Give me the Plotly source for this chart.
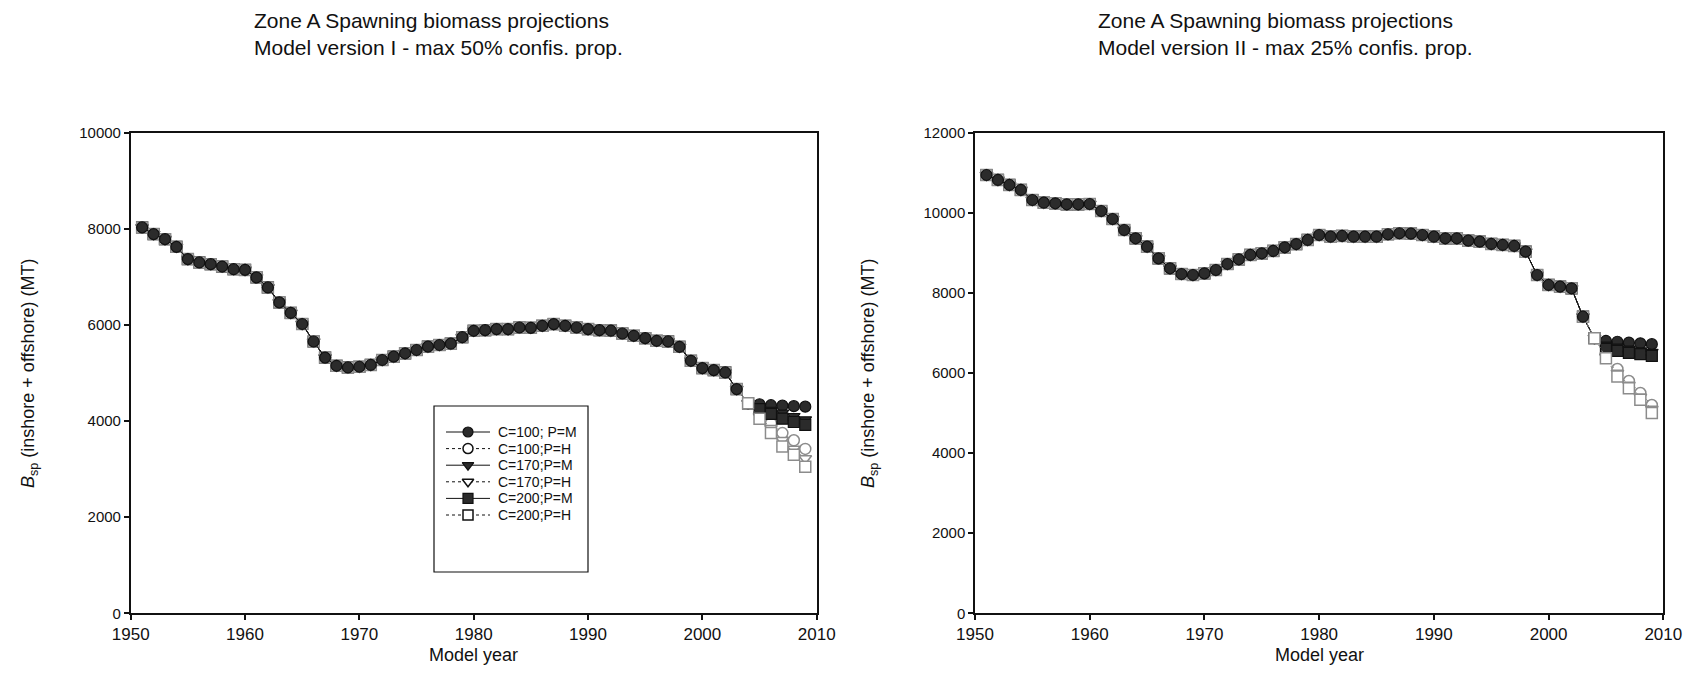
import plotly.graph_objects as go

# ---------------- data ----------------
hist_years = list(range(1951, 2004))
proj_years = list(range(2004, 2010))

# Model version I (left) historical spawning biomass 1951-2003
hist_left = [8030, 7890, 7785, 7625, 7370, 7300, 7265, 7215, 7160, 7145,
             6990, 6780, 6470, 6250, 6020, 5655, 5320, 5150, 5115, 5130,
             5167, 5271, 5340, 5410, 5479, 5548, 5583, 5610, 5745, 5878,
             5892, 5913, 5913, 5947, 5940, 5982, 6017, 5982, 5947, 5913,
             5892, 5880, 5822, 5774, 5725, 5670, 5656, 5545, 5254, 5102,
             5060, 5011, 4665]
# projections 2004-2009
left_c100_m = [4370, 4350, 4330, 4320, 4310, 4300]
left_c100_h = [4370, 4150, 3950, 3750, 3600, 3420]
left_c170_m = [4370, 4300, 4230, 4170, 4100, 4030]
left_c170_h = [4370, 4100, 3850, 3600, 3420, 3220]
left_c200_m = [4370, 4250, 4150, 4050, 3980, 3920]
left_c200_h = [4370, 4050, 3750, 3470, 3300, 3050]

# Model version II (right) historical spawning biomass 1951-2003
hist_right = [10944, 10820, 10695, 10570, 10320, 10253, 10237, 10212, 10212, 10220,
              10045, 9845, 9570, 9363, 9154, 8863, 8614, 8472, 8447, 8489,
              8572, 8722, 8839, 8947, 8989, 9047, 9139, 9220, 9322, 9446,
              9404, 9422, 9404, 9404, 9404, 9464, 9489, 9480, 9446, 9404,
              9363, 9363, 9305, 9280, 9222, 9197, 9172, 9030, 8447, 8198,
              8156, 8115, 7406]
right_c100_m = [6870, 6800, 6780, 6760, 6740, 6720]
right_c100_h = [6870, 6450, 6100, 5800, 5500, 5200]
right_c170_m = [6870, 6700, 6650, 6600, 6560, 6520]
right_c170_h = [6870, 6400, 6000, 5700, 5400, 5100]
right_c200_m = [6870, 6600, 6550, 6500, 6470, 6430]
right_c200_h = [6870, 6370, 5910, 5620, 5330, 5000]

series_names = ["C=100; P=M", "C=100;P=H", "C=170;P=M", "C=170;P=H", "C=200;P=M", "C=200;P=H"]

x_ticks = [1950, 1960, 1970, 1980, 1990, 2000, 2010]
y_ticks_left = [0, 2000, 4000, 6000, 8000, 10000]
y_ticks_right = [0, 2000, 4000, 6000, 8000, 10000, 12000]

# ---------------- styles ----------------
FONT = "Liberation Sans, Arial, sans-serif"
styles = [
    dict(symbol="circle", filled=True),
    dict(symbol="circle", filled=False),
    dict(symbol="triangle-down", filled=True),
    dict(symbol="triangle-down", filled=False),
    dict(symbol="square", filled=True),
    dict(symbol="square", filled=False),
]


def style_kw(st, legend=False, size=11):
    if st["filled"]:
        return dict(
            line=dict(color="#111111", width=1, dash="solid"),
            marker=dict(symbol=st["symbol"], size=size,
                        color="#2b2b2b", line=dict(color="#111111", width=1.2)),
        )
    col = "#111111" if legend else "#8c8c8c"
    return dict(
        line=dict(color=col, width=1, dash="dot"),
        marker=dict(symbol=st["symbol"], size=size,
                    color="white", line=dict(color=col, width=1.5)),
    )


fig = go.Figure()

panels = [
    ("x", "y", hist_left, [left_c100_m, left_c100_h, left_c170_m,
                           left_c170_h, left_c200_m, left_c200_h]),
    ("x2", "y2", hist_right, [right_c100_m, right_c100_h, right_c170_m,
                              right_c170_h, right_c200_m, right_c200_h]),
]

for xa, ya, hist, projs in panels:
    for name, st, proj in zip(series_names, styles, projs):
        fig.add_trace(go.Scatter(
            x=hist_years + proj_years, y=hist + proj, mode="lines+markers",
            name=name, showlegend=False, xaxis=xa, yaxis=ya, **style_kw(st)))
    # history drawn on top with the C=100; P=M style
    fig.add_trace(go.Scatter(
        x=hist_years, y=hist, mode="lines+markers", showlegend=False,
        xaxis=xa, yaxis=ya, **style_kw(styles[0])))

W, H = 1694, 696


def px_x(v):
    return v / W


def px_y(v):
    return 1 - v / H


# ---------------- key (legend) drawn in its own pixel-unit axes ----------------
KEY_L, KEY_R, KEY_T, KEY_B = 434, 588, 406, 572
ROW0, ROW_STEP = 26, 16.6
for i, (name, st) in enumerate(zip(series_names, styles)):
    ry = ROW0 + ROW_STEP * i
    kw = style_kw(st, legend=True, size=10)
    fig.add_trace(go.Scatter(x=[12, 56], y=[ry, ry], mode="lines", line=kw["line"],
                             showlegend=False, hoverinfo="skip", xaxis="x3", yaxis="y3"))
    fig.add_trace(go.Scatter(x=[34], y=[ry], mode="markers", marker=kw["marker"],
                             showlegend=False, hoverinfo="skip", xaxis="x3", yaxis="y3"))
    fig.add_annotation(text=name, x=62, y=ry, xref="x3", yref="y3", showarrow=False,
                       xanchor="left", yanchor="middle",
                       font=dict(family=FONT, size=14, color="#111111"))

fig.add_shape(type="rect", xref="paper", yref="paper",
              x0=px_x(KEY_L), x1=px_x(KEY_R), y0=px_y(KEY_B), y1=px_y(KEY_T),
              line=dict(color="#111111", width=1.2), fillcolor="rgba(0,0,0,0)", layer="above")

axis_common = dict(
    showline=True, linecolor="#111111", linewidth=1.5, mirror=True,
    ticks="outside", ticklen=5, tickwidth=1.5, tickcolor="#111111",
    showgrid=False, zeroline=False, automargin=False,
)
xfont = dict(family=FONT, size=17, color="#111111")
yfont = dict(family=FONT, size=15, color="#111111")

fig.update_layout(
    template="none",
    width=W, height=H,
    margin=dict(l=0, r=0, t=0, b=0, pad=0, autoexpand=False),
    paper_bgcolor="white", plot_bgcolor="white",
    font=dict(family=FONT, color="#111111"),
    showlegend=False,
    xaxis=dict(domain=[px_x(130.7), px_x(816.7)], range=[1950, 2010],
               tickvals=x_ticks, anchor="y", tickfont=xfont, **axis_common),
    yaxis=dict(domain=[px_y(613.3), px_y(132.7)], range=[0, 10000],
               tickvals=y_ticks_left, tickformat="d", anchor="x", tickfont=yfont, **axis_common),
    xaxis2=dict(domain=[px_x(975), px_x(1663.3)], range=[1950, 2010],
                tickvals=x_ticks, anchor="y2", tickfont=xfont, **axis_common),
    yaxis2=dict(domain=[px_y(613.3), px_y(132.7)], range=[0, 12000],
                tickvals=y_ticks_right, tickformat="d", anchor="x2", tickfont=yfont, **axis_common),
    xaxis3=dict(domain=[px_x(KEY_L), px_x(KEY_R)], range=[0, KEY_R - KEY_L],
                visible=False, fixedrange=True, anchor="y3", automargin=False),
    yaxis3=dict(domain=[px_y(KEY_B), px_y(KEY_T)], range=[KEY_B - KEY_T, 0],
                visible=False, fixedrange=True, anchor="x3", automargin=False),
)

annotations = [
    dict(text="Zone A Spawning biomass projections<br>Model version I - max 50% confis. prop.",
         x=px_x(252), y=px_y(34), xanchor="left", yanchor="middle", align="left"),
    dict(text="Zone A Spawning biomass projections<br>Model version II - max 25% confis. prop.",
         x=px_x(1096), y=px_y(34), xanchor="left", yanchor="middle", align="left"),
]
for a in annotations:
    a.update(xref="paper", yref="paper", showarrow=False,
             font=dict(family=FONT, size=21, color="#111111"))
    fig.add_annotation(**a)

for cx in [(130.7 + 816.7) / 2, (975 + 1663.3) / 2]:
    fig.add_annotation(text="Model year", x=px_x(cx), y=px_y(655), xref="paper", yref="paper",
                       showarrow=False, xanchor="center", yanchor="middle",
                       font=dict(family=FONT, size=18, color="#111111"))

for lx in [29, 869]:
    fig.add_annotation(text="<i>B</i><sub>sp</sub> (inshore + offshore) (MT)",
                       x=px_x(lx), y=px_y(373), xref="paper", yref="paper",
                       showarrow=False, textangle=-90, xanchor="center", yanchor="middle",
                       font=dict(family=FONT, size=18, color="#111111"))

fig.write_html("out.html")
